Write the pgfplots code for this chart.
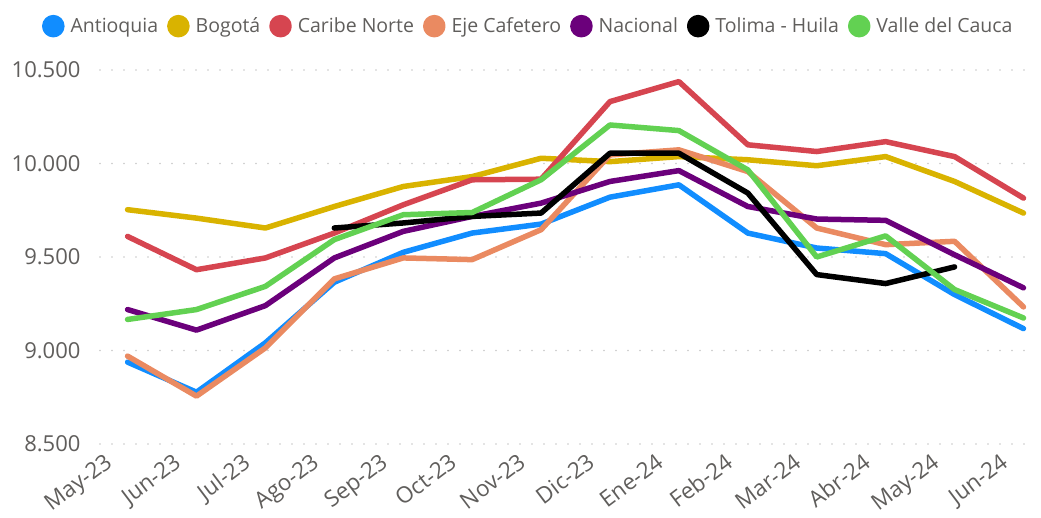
\documentclass[border=0pt]{standalone}
\usepackage{pgfplots}
\pgfplotsset{compat=1.18}
\usepackage{fontspec}
\setmainfont{Open Sans}
\definecolor{txt}{HTML}{605E5C}
\definecolor{gridc}{HTML}{C8C8C8}
\definecolor{cAnt}{HTML}{118DFF}
\definecolor{cBog}{HTML}{D9B300}
\definecolor{cCar}{HTML}{D64550}
\definecolor{cEje}{HTML}{EA8A61}
\definecolor{cNac}{HTML}{6B007B}
\definecolor{cTol}{HTML}{000000}
\definecolor{cVal}{HTML}{62D152}
\pgfplotstableread{
x Ant Bog Car Eje Nac Val
0 8938 9753 9610 8970 9219 9166
1 8777 9708 9432 8756 9109 9219
2 9041 9655 9495 9014 9240 9343
3 9365 9770 9628 9383 9495 9593
4 9525 9877 9779 9495 9637 9726
5 9628 9930 9913 9486 9717 9738
6 9676 10028 9916 9646 9788 9913
7 9820 10010 10331 10046 9904 10206
8 9886 10037 10438 10073 9962 10176
9 9628 10020 10100 9957 9770 9966
10 9548 9988 10064 9655 9703 9500
11 9518 10037 10117 9566 9696 9613
12 9299 9904 10037 9584 9512 9326
13 9117 9735 9815 9233 9335 9174
}\datatable
\pgfplotstableread{
x Tol
3 9655
4 9682
5 9717
6 9735
7 10055
8 10055
9 9842
10 9406
11 9358
12 9447
}\toltable
\begin{document}
\begin{tikzpicture}
\path[use as bounding box] (-100pt,-73pt) rectangle (941pt,444pt);
\begin{axis}[
  at={(0,0)}, anchor=south west,
  scale only axis, width=935.2pt, height=383.35pt,
  xmin=-0.4, xmax=13.17, ymin=8500, ymax=10550,
  axis line style={draw=none}, tick style={draw=none},
  scaled y ticks=false,
  xtick={0,...,13},
  xticklabels={May-23,Jun-23,Jul-23,Ago-23,Sep-23,Oct-23,Nov-23,Dic-23,Ene-24,Feb-24,Mar-24,Abr-24,May-24,Jun-24},
  xticklabel style={font=\fontsize{22.5}{24}\selectfont, text=txt, inner sep=0pt, xshift=-24pt, yshift=-8pt, rotate=37, anchor=north east},
  ytick={8500,9000,9500,10000,10500},
  yticklabel style={font=\fontsize{22}{24}\selectfont, text=txt, anchor=east, xshift=-16pt},
  /pgf/number format/.cd, assume math mode=true, fixed, 1000 sep={.}, /pgfplots/.cd,
  ymajorgrids,
  grid style={gridc, line width=1.6pt, line cap=round, dash pattern=on 0pt off 12pt},
  every axis plot/.append style={line width=5.5pt, line join=round, line cap=round, mark=none},
  legend columns=-1,
  legend style={draw=none, fill=none, at={(0.458,1.09)}, anchor=center,
    font=\fontsize{19.5}{21}\selectfont, text=txt,
    /tikz/every even column/.append style={column sep=7pt},
    /tikz/every odd column/.append style={column sep=4pt},
    inner sep=0pt},
  legend image code/.code={\fill[#1] (0pt,0pt) circle (8.5pt);},
]
\addplot[color=cAnt] table[x=x,y=Ant]{\datatable};
\addlegendentry{Antioquia}
\addplot[color=cBog] table[x=x,y=Bog]{\datatable};
\addlegendentry{Bogotá}
\addplot[color=cCar] table[x=x,y=Car]{\datatable};
\addlegendentry{Caribe Norte}
\addplot[color=cEje] table[x=x,y=Eje]{\datatable};
\addlegendentry{Eje Cafetero}
\addplot[color=cNac] table[x=x,y=Nac]{\datatable};
\addlegendentry{Nacional}
\addplot[color=cTol] table[x=x,y=Tol]{\toltable};
\addlegendentry{Tolima - Huila}
\addplot[color=cVal] table[x=x,y=Val]{\datatable};
\addlegendentry{Valle del Cauca}
\end{axis}
\end{tikzpicture}
\end{document}
